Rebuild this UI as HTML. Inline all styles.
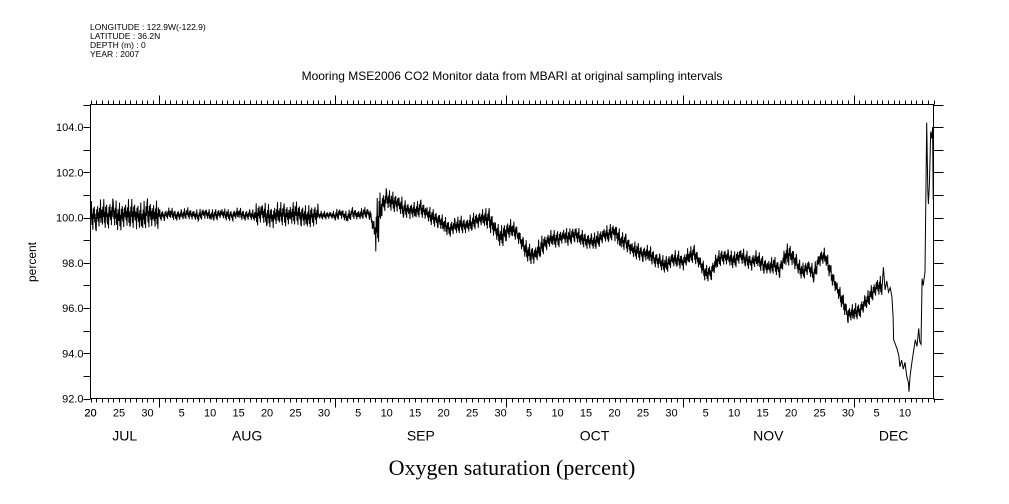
<!DOCTYPE html>
<html><head><meta charset="utf-8"><style>
body{margin:0;background:#fff;width:1009px;height:504px;overflow:hidden}
svg{display:block}
text{font-family:"Liberation Sans",sans-serif;fill:#000}
</style></head><body>
<svg id="chart" width="1009" height="504" viewBox="0 0 1009 504" xmlns="http://www.w3.org/2000/svg">
<g font-size="8.5">
<text x="90" y="30">LONGITUDE : 122.9W(-122.9)</text>
<text x="90" y="39">LATITUDE : 36.2N</text>
<text x="90" y="48">DEPTH (m) : 0</text>
<text x="90" y="57">YEAR : 2007</text>
</g>
<text x="512" y="80" font-size="12" text-anchor="middle">Mooring MSE2006 CO2 Monitor data from MBARI at original sampling intervals</text>
<text transform="translate(36,262) rotate(-90)" font-size="12" text-anchor="middle">percent</text>
<text x="512" y="475" font-size="22" text-anchor="middle" style="font-family:'Liberation Serif',serif">Oxygen saturation (percent)</text>
<g id="axes"></g>
<path id="series" fill="none" stroke="#000" stroke-width="1"/>
<rect x="90.5" y="104.5" width="843" height="294" fill="none" stroke="#000" stroke-width="1"/>
</svg>
<script>
// day index 0 = Jul 20 2007 ; axis spans 148 days
const dailyMid = [100.1,100.0,100.2,100.1,100.2,100.0,100.1,100.2,100.1,100.0,100.2,100.1,
100.1,100.1,100.2,100.1,100.1,100.2,100.1,100.1,100.2,100.1,100.1,100.2,100.1,100.1,100.2,100.1,100.1,
100.1,100.2,100.1,100.0,100.2,100.1,100.1,100.2,100.1,100.0,100.1,
100.1,100.1,100.1,
100.1,100.2,100.0,100.2,100.1,100.2,100.2,
99.3,100.5,100.8,100.7,100.6,100.4,
100.3,100.3,100.4,100.2,100.0,99.9,
99.7,99.5,99.6,99.7,
99.6,99.8,99.9,100.0,
99.9,99.5,99.1,99.4,99.5,99.3,
98.7,98.4,98.3,98.7,
98.9,99.1,99.0,99.2,99.1,99.3,99.1,99.0,
98.9,99.0,99.2,99.3,99.4,99.0,98.9,
98.6,98.5,98.4,98.4,98.2,
98.0,97.9,98.1,98.2,98.0,
98.3,98.4,98.0,
97.5,97.6,
98.1,98.3,98.2,98.1,98.3,98.2,98.0,98.2,
97.9,97.8,97.9,97.7,
98.3,98.4,
97.9,97.6,97.8,97.5,
98.2,98.3,
97.5,96.9,96.3,
95.7,95.8,95.9,
96.2,96.6,96.9];
const dailyAmp = [0.5,0.5,0.5,0.5,0.5,0.5,0.5,0.5,0.5,0.5,0.5,0.5,
0.2,0.2,0.2,0.2,0.2,0.2,0.2,0.2,0.2,0.2,0.2,0.2,0.2,0.2,0.2,0.2,0.2,
0.4,0.4,0.4,0.4,0.4,0.4,0.4,0.4,0.4,0.4,0.4,
0.15,0.15,0.15,
0.2,0.2,0.2,0.2,0.2,0.2,0.25,
0.9,0.4,0.35,0.35,0.35,0.3,
0.3,0.3,0.3,0.3,0.3,0.3,
0.3,0.3,0.3,0.3,
0.3,0.3,0.3,0.35,
0.4,0.35,0.4,0.35,0.3,0.3,
0.35,0.35,0.35,0.35,
0.3,0.3,0.3,0.3,0.3,0.3,0.3,0.3,
0.3,0.3,0.3,0.3,0.35,0.3,0.3,
0.3,0.3,0.3,0.3,0.3,
0.3,0.3,0.3,0.3,0.3,
0.3,0.3,0.3,
0.3,0.3,
0.3,0.3,0.3,0.3,0.3,0.3,0.3,0.3,
0.3,0.3,0.3,0.3,
0.4,0.35,
0.3,0.3,0.3,0.3,
0.3,0.3,
0.3,0.3,0.3,
0.3,0.3,0.3,
0.3,0.3,0.35];
const tailDays = [139.0,139.2,139.5,139.8,140.1,140.4,140.7,140.9,141.0,141.6,141.9,142.1,142.4,142.7,143.0,143.3,143.6,143.7,143.9,144.2,144.5,144.8,145.1,145.4,145.6,145.8,146.0,146.2,146.5,146.8,147.0,147.1,147.3,147.5,147.7,147.85,147.95];
const tailValues = [97.0,97.8,96.8,97.2,96.7,96.9,96.5,95.6,94.6,94.2,93.9,93.4,93.7,93.3,93.6,93.0,92.7,92.3,93.0,93.6,94.1,94.6,94.3,95.1,94.5,94.4,97.3,97.0,97.6,104.2,101.2,100.6,101.6,103.8,103.5,104.0,100.8];
const yTickValues = [92,93,94,95,96,97,98,99,100,101,102,103,104,105];
const yTickLabels = ["92.0","94.0","96.0","98.0","100.0","102.0","104.0"];
const monthNames = ["JUL","AUG","SEP","OCT","NOV","DEC"];
const monthStartDays = [-19,12,43,73,104,134];
const monthLengths = [31,31,30,31,30,31];

const X0=90.5, X1=933.5, Y0=398.5, Y1=104.5, DMAX=148, VMIN=92, VMAX=105;
function xs(d){return X0+(X1-X0)*d/DMAX;}
function ys(v){return Y0-(Y0-Y1)*(v-VMIN)/(VMAX-VMIN);}
const NS='http://www.w3.org/2000/svg';
const axes=document.getElementById('axes');
function line(x1,y1,x2,y2,name){const l=document.createElementNS(NS,'line');
l.setAttribute('x1',x1);l.setAttribute('y1',y1);l.setAttribute('x2',x2);l.setAttribute('y2',y2);
l.setAttribute('stroke','#000');l.setAttribute('stroke-width','1');


axes.appendChild(l);}
function text(x,y,s,size,anchor,name){const t=document.createElementNS(NS,'text');
t.setAttribute('x',x);t.setAttribute('y',y);t.setAttribute('font-size',size);t.setAttribute('text-anchor',anchor);t.textContent=s;


axes.appendChild(t);}
yTickValues.forEach(v=>{const y=Math.round(ys(v))+0.5;line(X0-7,y,X0,y,'y-tick');line(X1,y,X1+10,y,'y-tick-right');});
yTickLabels.forEach(s=>{text(X0-7,ys(parseFloat(s))+4,s,11,'end','y-tick-label');});
const mstarts=monthStartDays.slice(1);
for(let d=0;d<=DMAX;d++){const x=Math.round(xs(d))+0.5;const major=mstarts.includes(d);
 const L=major?9:4;line(x,Y1-L,x,Y1,'x-tick-top');line(x,Y0,x,Y0+L,'x-tick-bottom');}
for(let m=0;m<monthNames.length;m++){for(let dom=5;dom<=monthLengths[m];dom+=5){
 const d=monthStartDays[m]+dom-1; if(d<0||d>=DMAX-2)continue;
 text(xs(d),Y0+18,String(dom),11,'middle','x-tick-label');}}
text(xs(0),Y0+18,'20',11,'middle','x-tick-label');
for(let m=0;m<monthNames.length;m++){const b=Math.min(DMAX,monthStartDays[m]+monthLengths[m]);
 text(xs((Math.max(0,monthStartDays[m])+b)/2),Y0+42,monthNames[m],14,'middle','month-label');}
const pattern=[0.6,-0.3,1.3,-0.8,0.2,-1.2,0.7,-0.2,0.9,-0.5,0.3,-1.0];
let p='';
const N=pattern.length;
for(let d=0;d<dailyMid.length;d++){for(let k=0;k<N;k++){const t=d+k/N;
 const next=d+1<dailyMid.length?dailyMid[d+1]:tailValues[0];
 const m=dailyMid[d]+(next-dailyMid[d])*(k/N);
 const v=m+dailyAmp[d]*pattern[(k+d*5)%N];
 p+=(p?'L':'M')+xs(t).toFixed(1)+','+ys(v).toFixed(1);}}
for(let i=0;i<tailDays.length;i++){p+='L'+xs(tailDays[i]).toFixed(1)+','+ys(tailValues[i]).toFixed(1);}
document.getElementById('series').setAttribute('d',p);
</script>
</body></html>
